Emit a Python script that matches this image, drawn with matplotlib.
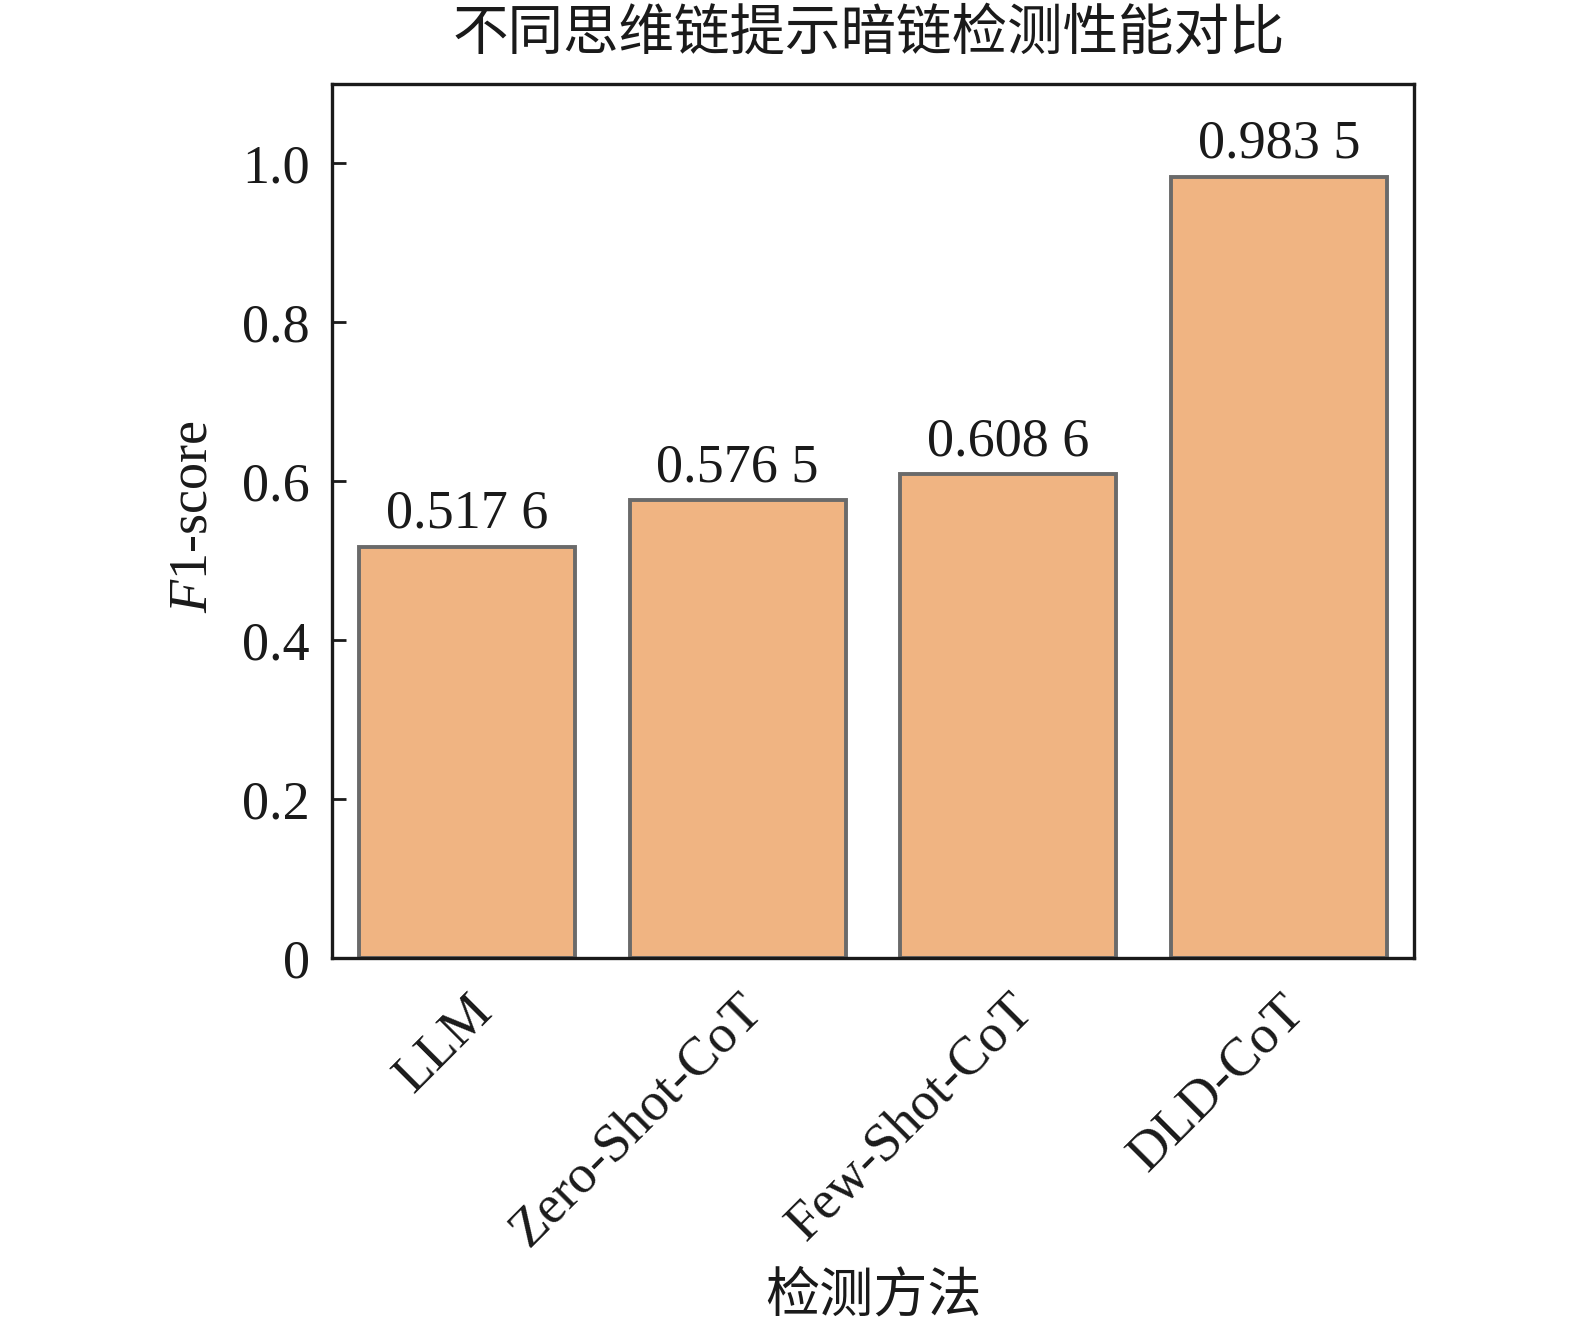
import matplotlib
matplotlib.use("Agg")
import matplotlib as mpl
import matplotlib.pyplot as plt

methods = ["LLM", "Zero-Shot-CoT", "Few-Shot-CoT", "DLD-CoT"]
f1_scores = [0.5176, 0.5765, 0.6086, 0.9835]
value_labels = ["0.517 6", "0.576 5", "0.608 6", "0.983 5"]
y_ticks = [0, 0.2, 0.4, 0.6, 0.8, 1.0]
y_tick_labels = ["0", "0.2", "0.4", "0.6", "0.8", "1.0"]
title = "不同思维链提示暗链检测性能对比"
x_label = "检测方法"

mpl.rcParams["font.family"] = ["Liberation Serif", "DejaVu Serif"]
mpl.rcParams["mathtext.fontset"] = "custom"
mpl.rcParams["mathtext.it"] = "Liberation Serif:italic"
mpl.rcParams["mathtext.rm"] = "Liberation Serif"
mpl.rcParams["mathtext.default"] = "regular"

cjk = ["Noto Sans CJK SC", "DejaVu Sans"]
ink = "#1a1a1a"

W, H = 1575, 1327
fig = plt.figure(figsize=(W / 100, H / 100), dpi=100)
ax = fig.add_axes([332 / W, 1 - 958 / H, (1414 - 332) / W, (958 - 84) / H])

x = list(range(len(methods)))
ax.bar(x, f1_scores, width=0.8, color="#F0B482", edgecolor="#6a6a6a",
       linewidth=2.8, zorder=2)

for xi, v, lab in zip(x, f1_scores, value_labels):
    ax.annotate(lab, (xi, v), xytext=(0, 5), textcoords="offset points",
                ha="center", va="bottom", fontsize=39, color=ink)

ax.set_xlim(-0.5, 3.5)
ax.set_ylim(0, 1.1)
ax.set_yticks(y_ticks)
ax.set_yticklabels(y_tick_labels, fontsize=39, color=ink)
ax.set_xticks(x)
ax.set_xticklabels(methods, fontsize=39, color=ink,
                   rotation=45, ha="right", va="top", rotation_mode="anchor")

ax.tick_params(axis="both", direction="in", length=10, width=2, color=ink,
               top=False, right=False)
ax.tick_params(axis="y", pad=16)
ax.tick_params(axis="x", pad=20)
for s in ax.spines.values():
    s.set_linewidth(2.4)
    s.set_color(ink)
    s.set_zorder(3)

ax.set_ylabel("$\\mathit{F}$1-score", fontsize=39, color=ink)
ax.yaxis.set_label_coords(-0.105, 0.505)

ax.set_xlabel(x_label, fontsize=39, family=cjk, color=ink, fontweight="light")
ax.xaxis.set_label_coords(0.5, -0.355)

fig.text(869 / W, 1 - 34 / H, title, fontsize=40, family=cjk, color=ink,
         ha="center", va="center", fontweight="light")

fig.savefig("out.png", dpi=100, facecolor="white")
